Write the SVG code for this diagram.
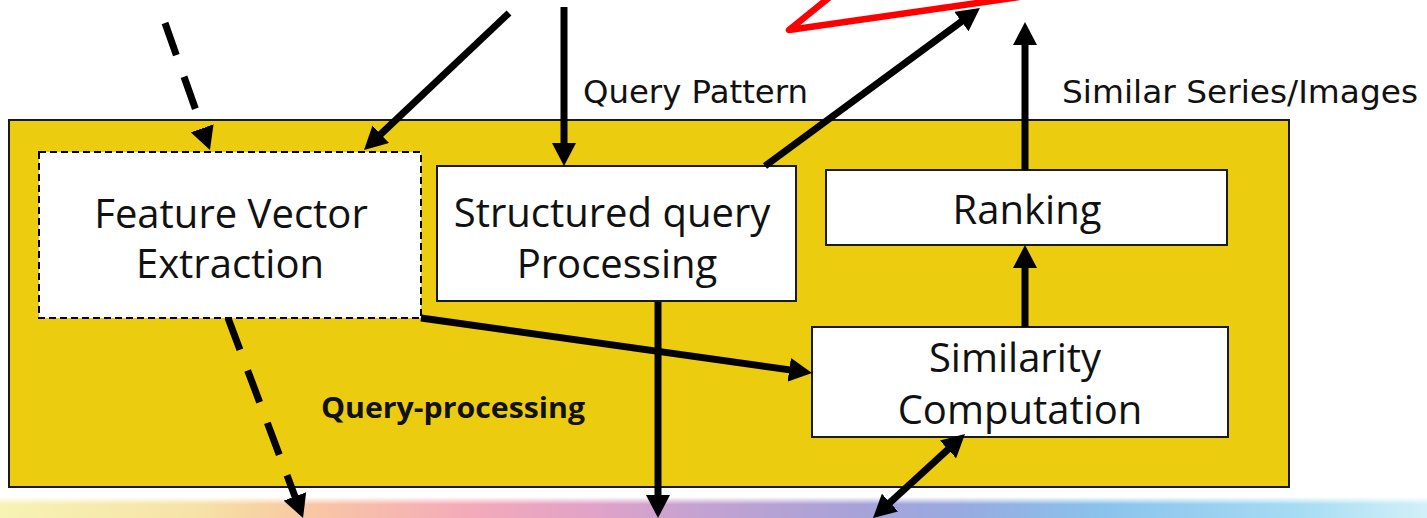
<svg xmlns="http://www.w3.org/2000/svg" width="1427" height="518" viewBox="0 0 1427 518">
  <defs>
    <style>
      .box { fill: #ffffff; stroke: #1a1a1a; stroke-width: 2; }
      .dbox { fill: #ffffff; stroke: #000000; stroke-width: 2; stroke-dasharray: 7 4; }
      .lbl { font-family: "Open Sans", "Noto Sans", "DejaVu Sans", sans-serif; font-size: 40px; fill: #111111; text-anchor: middle; }
      .cap { font-family: "DejaVu Sans", "Noto Sans", sans-serif; font-size: 32px; fill: #111111; }
      .bold { font-family: "Open Sans", "Noto Sans", sans-serif; font-size: 28px; font-weight: bold; fill: #111111; }
      .arr { fill: none; stroke: #000000; stroke-width: 7; marker-end: url(#ah); }
      .dash { stroke-dasharray: 34 23; }
    </style>
    <marker id="ah" markerUnits="userSpaceOnUse" markerWidth="24" markerHeight="24" viewBox="0 0 24 24" refX="13" refY="12" orient="auto">
      <path d="M0,0 L23,12 L0,24 Z" fill="#000000"/>
    </marker>
    <marker id="ahs" markerUnits="userSpaceOnUse" markerWidth="24" markerHeight="24" viewBox="0 0 24 24" refX="13" refY="12" orient="auto-start-reverse">
      <path d="M0,0 L23,12 L0,24 Z" fill="#000000"/>
    </marker>
    <linearGradient id="strip" x1="0" y1="0" x2="1" y2="0">
      <stop offset="0" stop-color="#F6F3B4"/>
      <stop offset="0.14" stop-color="#F7E2A6"/>
      <stop offset="0.21" stop-color="#F8C9A2"/>
      <stop offset="0.33" stop-color="#F4AABA"/>
      <stop offset="0.42" stop-color="#E0A2C8"/>
      <stop offset="0.49" stop-color="#C4A2D2"/>
      <stop offset="0.60" stop-color="#A8A2D8"/>
      <stop offset="0.67" stop-color="#98AAE0"/>
      <stop offset="0.77" stop-color="#8AC2EC"/>
      <stop offset="0.91" stop-color="#A6DCF4"/>
      <stop offset="1" stop-color="#D2F0F8"/>
    </linearGradient>
    <linearGradient id="fade" x1="0" y1="0" x2="0" y2="1">
      <stop offset="0" stop-color="#ffffff" stop-opacity="1"/>
      <stop offset="0.35" stop-color="#ffffff" stop-opacity="0"/>
    </linearGradient>
  </defs>

  <rect x="0" y="0" width="1427" height="518" fill="#ffffff"/>

  <g id="bottom-strip">
    <rect x="0" y="497" width="1427" height="21" fill="url(#strip)"/>
    <rect x="0" y="497" width="1427" height="21" fill="url(#fade)"/>
  </g>

  <g id="red-mark">
    <polyline points="836,-8 789,30 1026,-4" fill="none" stroke="#FF0000" stroke-width="6.5" stroke-linejoin="round" stroke-linecap="round"/>
  </g>

  <g id="query-processing">
    <rect x="9" y="120" width="1280" height="367" fill="#ECCC0E" stroke="#1a1a1a" stroke-width="2"/>
    <text class="bold" x="321" y="418" textLength="264" lengthAdjust="spacingAndGlyphs">Query-processing</text>
  </g>

  <g id="feature-vector-extraction">
    <rect class="dbox" x="39" y="152" width="382" height="166"/>
    <text class="lbl" x="231" y="228">Feature Vector</text>
    <text class="lbl" x="230" y="278">Extraction</text>
  </g>

  <g id="structured-query-processing">
    <rect class="box" x="437" y="166" width="359" height="135"/>
    <text class="lbl" x="612" y="227">Structured query</text>
    <text class="lbl" x="617" y="278">Processing</text>
  </g>

  <g id="ranking">
    <rect class="box" x="826" y="170" width="401" height="75"/>
    <text class="lbl" x="1027" y="224">Ranking</text>
  </g>

  <g id="similarity-computation">
    <rect class="box" x="812" y="327" width="416" height="110"/>
    <text class="lbl" x="1015" y="372">Similarity</text>
    <text class="lbl" x="1020" y="424">Computation</text>
  </g>

  <g id="labels">
    <text class="cap" x="583" y="103" textLength="225" lengthAdjust="spacingAndGlyphs">Query Pattern</text>
    <text class="cap" x="1062" y="103" textLength="356" lengthAdjust="spacingAndGlyphs">Similar Series/Images</text>
  </g>

  <g id="connectors">
    <path class="arr dash" d="M165,23 L206.6,140.6"/>
    <path class="arr" d="M509,13 L371.3,143.1"/>
    <path class="arr" d="M564,7 L564,156"/>
    <path class="arr" d="M765,166 L971.9,13.9"/>
    <path class="arr" d="M1025,170 L1025,32"/>
    <path class="arr" d="M1025,327 L1025,255"/>
    <path class="arr" d="M421,318 L802.1,371.6"/>
    <path class="arr" d="M658,302 L658,508"/>
    <path class="arr" d="M228,318 L299.5,508.6" stroke-dasharray="34 22"/>
    <path class="arr" d="M957.6,440.7 L880.4,511.3" marker-start="url(#ahs)"/>
  </g>
</svg>
